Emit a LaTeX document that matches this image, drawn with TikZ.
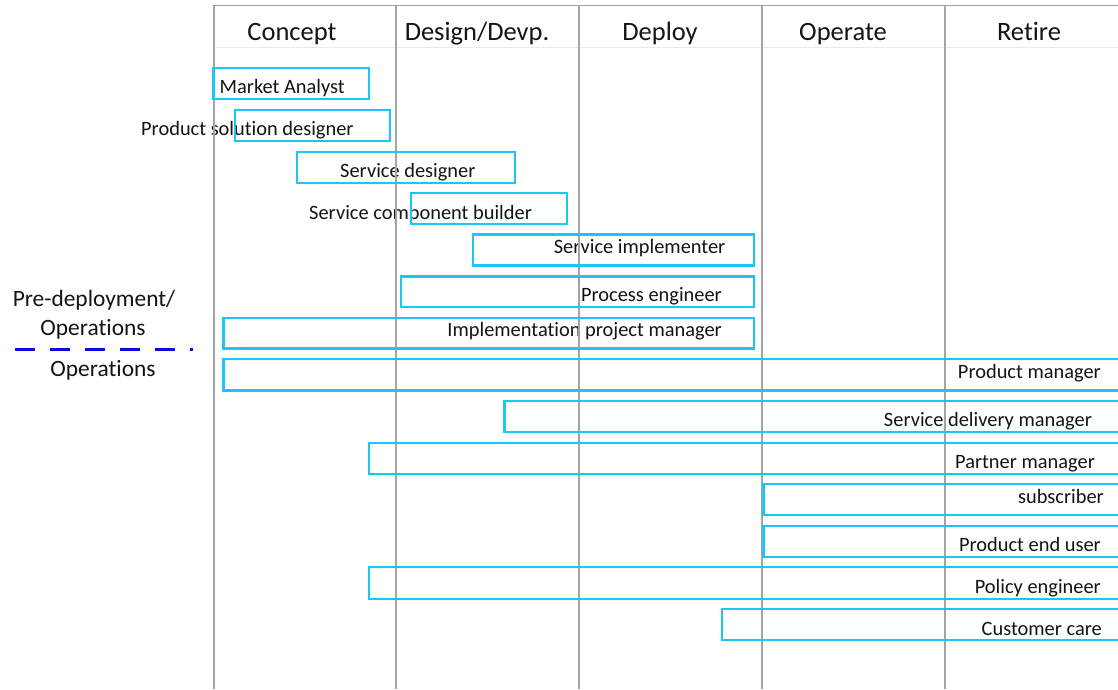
\documentclass[tikz,border=0pt]{standalone}
\usepackage{fontspec}
\setmainfont{Carlito}[Ligatures=CommonOff]
\definecolor{gridgray}{HTML}{A4A4A4}
\definecolor{headrule}{HTML}{ECEAE2}
\definecolor{barcyan}{HTML}{1AC6F2}
\definecolor{splitblue}{HTML}{0A0AE0}
\definecolor{ink}{HTML}{141414}
\begin{document}
\begin{tikzpicture}[x=1pt,y=-1pt,
  gridline/.style={draw=gridgray,line width=1.8pt},
  bar/.style={draw=barcyan,line width=2.1pt},
  lbl/.style={inner sep=0pt,text=ink,font=\fontsize{20.4}{24}\selectfont},
  head/.style={inner sep=0pt,anchor=base,text=ink,font=\fontsize{26.5}{31}\selectfont},
  side/.style={inner sep=0pt,anchor=base,text=ink,font=\fontsize{23.4}{28}\selectfont}]
\clip (0,0) rectangle (1118,689);
\fill[white] (0,0) rectangle (1118,689);

% phase headers
\node[head] (hconcept) at (292,40) {Concept};
\node[head] (hdesign)  at (477,40) {Design/Devp.};
\node[head] (hdeploy)  at (660,40) {Deploy};
\node[head] (hoperate) at (843,40) {Operate};
\node[head] (hretire)  at (1029,40) {Retire};

% side legend
\node[side] (pre)  at (94,306.5) {Pre-deployment/};
\node[side] (ops1) at (93,335) {Operations};
\node[side] (ops2) at (103,376.5) {Operations};
\coordinate (splitL) at (15,349.3);
\coordinate (splitR) at (193,349.3);
\draw[splitblue,line width=3.4pt,dash pattern=on 20pt off 15pt] (splitL) -- (splitR);

% role labels (the solution designer span's left edge runs through its "l")
\node[lbl,anchor=base west] (tmarket)  at (219.5,93) {Market Analyst};
\node[lbl,anchor=base west] (tsolution) at (141,135) {Product solution designer};
\node[lbl,anchor=base west] (tsdesign) at (340,177) {Service designer};
\node[lbl,anchor=base west] (tbuilder) at (309,219) {Service component builder};
\node[lbl,anchor=base east] (timpl)    at (725.5,253.5) {Service implementer};
\node[lbl,anchor=base east] (tproc)    at (722,301.7) {Process engineer};
\node[lbl,anchor=base east] (tipm)     at (722,336.7) {Implementation project manager};
\node[lbl,anchor=base east] (tpm)      at (1101,378.5) {Product manager};
\node[lbl,anchor=base east] (tsdm)     at (1092,426.7) {Service delivery manager};
\node[lbl,anchor=base east] (tpartner) at (1095,468.5) {Partner manager};
\node[lbl,anchor=base east] (tsub)     at (1104,503.5) {subscriber};
\node[lbl,anchor=base east] (tenduser) at (1101,551.7) {Product end user};
\node[lbl,anchor=base east] (tpolicy)  at (1101,593.5) {Policy engineer};
\node[lbl,anchor=base east] (tcare)    at (1102,635) {Customer care};

% phase grid
\draw[headrule,line width=1.4pt] (213,47.3) -- (1118,47.3);
\draw[gridline] (213,5.5) -- (1118,5.5);
\foreach \gx in {214,396,579,762,945}
  \draw[gridline] (\gx,5.5) -- (\gx,689);

% role spans
\draw[bar] (213.5,68) rectangle (369,99);
\draw[bar] (235,110) rectangle (390,141);
\draw[bar] (297,152) rectangle (515,183);
\draw[bar] (410.7,193.3) rectangle (566.7,224);
\draw[bar] (472.7,234.5) rectangle (754.3,265.5);
\draw[bar] (400.7,276.5) rectangle (754.3,307.3);
\draw[bar] (223.5,317.7) rectangle (754.3,348.5);
\draw[bar] (223.5,359.3) rectangle (1130,390.5);
\draw[bar] (504.5,401) rectangle (1130,432.3);
\draw[bar] (369,442.7) rectangle (1130,474);
\draw[bar] (763.5,484.3) rectangle (1130,515);
\draw[bar] (763.5,525.7) rectangle (1130,557);
\draw[bar] (369,567.3) rectangle (1130,598.7);
\draw[bar] (722,609) rectangle (1130,640);
\end{tikzpicture}
\end{document}
